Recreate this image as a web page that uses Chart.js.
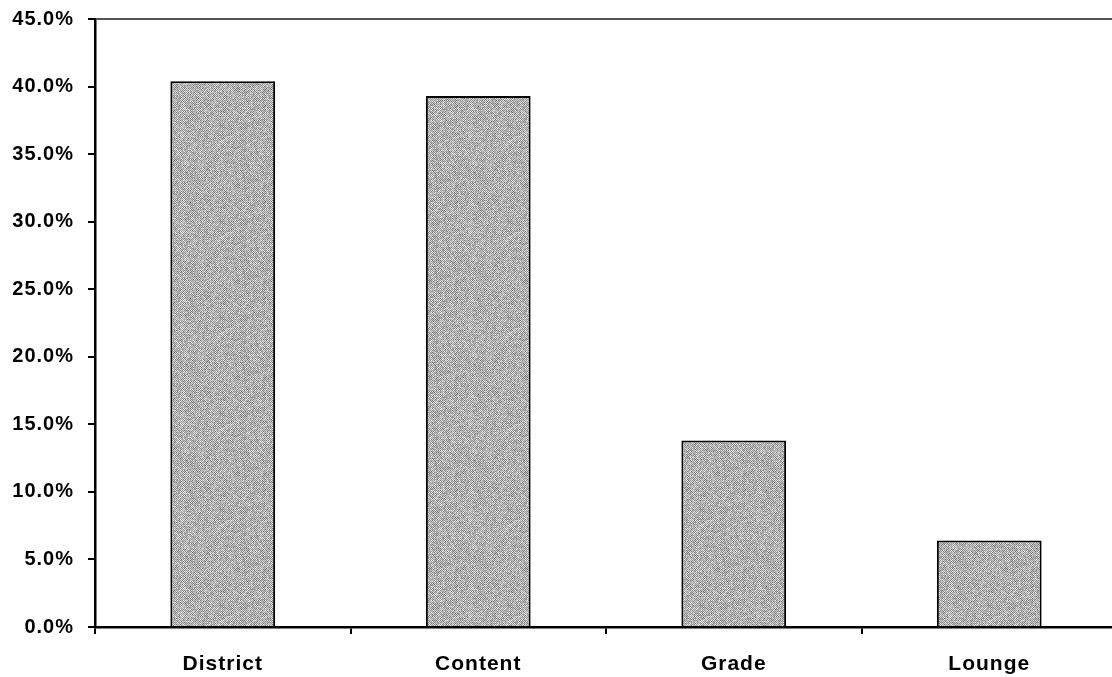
<!DOCTYPE html>
<html>
<head>
<meta charset="utf-8">
<script src="https://cdn.jsdelivr.net/npm/chart.js@4/dist/chart.umd.min.js"></script>
<style>
  html, body { margin: 0; padding: 0; background: #fff; overflow: hidden; }
  #wrap { width: 1112px; height: 677px; overflow: hidden; position: relative; }
  #box { width: 1125px; height: 677px; position: absolute; left: 0; top: 0; }
</style>
</head>
<body>
<div id="wrap"><div id="box"><canvas id="chart"></canvas></div></div>
<script>
// Share of responses by category (percent)
const categories = ['District', 'Content', 'Grade', 'Lounge'];
const shares = [40.4, 39.3, 13.8, 6.4];
const yTicks = [0, 5, 10, 15, 20, 25, 30, 35, 40, 45];

// Grainy gray fill for the bars, built from a deterministic hash so it never changes
function grainPattern() {
  const size = 96;
  const c = document.createElement('canvas');
  c.width = size; c.height = size;
  const g = c.getContext('2d');
  const img = g.createImageData(size, size);
  for (let y = 0; y < size; y++) {
    for (let x = 0; x < size; x++) {
      let h = (x * 374761393 + y * 668265263) >>> 0;
      h = ((h ^ (h >>> 13)) * 1274126177) >>> 0;
      h = (h ^ (h >>> 16)) >>> 0;
      const n = (h & 255) / 255;
      const checker = (x + y) % 2 === 0;
      const v = checker ? 115 + n * 60 : 175 + n * 65;
      const i = (y * size + x) * 4;
      img.data[i] = img.data[i + 1] = img.data[i + 2] = Math.round(v);
      img.data[i + 3] = 255;
    }
  }
  g.putImageData(img, 0, 0);
  return g.createPattern(c, 'repeat');
}

// Slightly spaced lettering for all axis text
const spacing = {
  id: 'spacing',
  beforeInit: chart => { chart.ctx.letterSpacing = '1px'; },
  beforeDraw: chart => { chart.ctx.letterSpacing = '1px'; }
};

const ctx = document.getElementById('chart').getContext('2d');
new Chart(ctx, {
  type: 'bar',
  data: {
    labels: categories,
    datasets: [{
      data: shares,
      backgroundColor: grainPattern(),
      borderColor: '#000',
      borderWidth: 2,
      borderSkipped: 'bottom',
      barPercentage: 0.82,
      categoryPercentage: 0.5
    }]
  },
  plugins: [spacing],
  options: {
    responsive: true,
    maintainAspectRatio: false,
    animation: false,
    layout: { padding: { top: 19, right: 8, left: 0, bottom: 0 } },
    plugins: { legend: { display: false }, tooltip: { enabled: false } },
    scales: {
      x: {
        grid: {
          offset: true,
          drawOnChartArea: false,
          color: '#000',
          tickColor: '#000',
          tickLength: 7,
          lineWidth: 2
        },
        border: { color: '#000', width: 2.5 },
        ticks: {
          color: '#000',
          padding: 18,
          font: { family: 'Liberation Sans, Arial, sans-serif', size: 21, weight: 'bold' }
        },
        afterFit: s => { s.height = 50; }
      },
      y: {
        min: 0,
        max: 45,
        afterBuildTicks: s => { s.ticks = yTicks.map(v => ({ value: v })); },
        grid: {
          color: c => (c.tick && c.tick.value === 45) ? '#555' : 'rgba(0,0,0,0)',
          tickColor: '#000',
          tickLength: 7,
          lineWidth: 2
        },
        border: { color: '#000', width: 2.5 },
        ticks: {
          color: '#000',
          padding: 14,
          callback: v => Number(v).toFixed(1) + '%',
          font: { family: 'Liberation Sans, Arial, sans-serif', size: 20, weight: 'bold' }
        },
        afterFit: s => { s.width = 95; s.paddingTop = 0; s.paddingBottom = 0; }
      }
    }
  }
});
</script>
</body>
</html>
